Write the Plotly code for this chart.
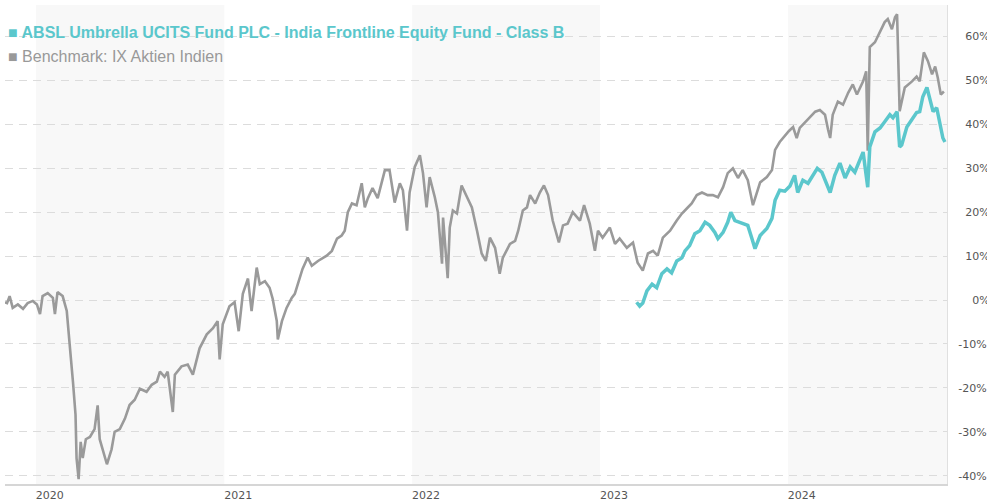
import plotly.graph_objects as go

# ---- data ----
bench_dates = [
 "2019-11-02","2019-11-06","2019-11-11","2019-11-17","2019-11-27","2019-12-07","2019-12-16","2019-12-26",
 "2020-01-03","2020-01-09","2020-01-14","2020-01-24","2020-02-03","2020-02-07","2020-02-12","2020-02-22",
 "2020-03-01","2020-03-05","2020-03-09","2020-03-13","2020-03-18","2020-03-20","2020-03-24","2020-03-28",
 "2020-04-01","2020-04-07","2020-04-15","2020-04-24","2020-04-30","2020-05-04","2020-05-10","2020-05-18",
 "2020-05-27","2020-06-02","2020-06-12","2020-06-22","2020-07-01","2020-07-11","2020-07-21","2020-08-03",
 "2020-08-13","2020-08-23","2020-08-29","2020-09-07","2020-09-13","2020-09-23","2020-09-27","2020-10-10",
 "2020-10-22","2020-11-01","2020-11-14","2020-11-28","2020-12-10","2020-12-19","2020-12-23","2020-12-29",
 "2021-01-11","2021-01-21","2021-01-29","2021-02-06","2021-02-16","2021-02-23","2021-03-05","2021-03-11",
 "2021-03-21","2021-03-30","2021-04-05","2021-04-13","2021-04-15","2021-04-23","2021-05-02","2021-05-12",
 "2021-05-18","2021-05-24","2021-06-02","2021-06-12","2021-06-20","2021-07-02","2021-07-19","2021-07-29",
 "2021-08-08","2021-08-17","2021-08-23","2021-08-29","2021-09-06","2021-09-15","2021-09-25","2021-10-01",
 "2021-10-07","2021-10-16","2021-10-26","2021-11-09","2021-11-18","2021-11-28","2021-12-08","2021-12-14",
 "2021-12-22","2021-12-27","2022-01-06","2022-01-16","2022-01-22","2022-01-29","2022-02-04","2022-02-14",
 "2022-02-20","2022-02-28","2022-03-02","2022-03-11","2022-03-15","2022-03-21","2022-03-29","2022-04-07",
 "2022-04-17","2022-04-27","2022-05-07","2022-05-16","2022-05-24","2022-06-01","2022-06-11","2022-06-20",
 "2022-06-26","2022-07-10","2022-07-20","2022-07-26","2022-08-04","2022-08-12","2022-08-18","2022-08-28",
 "2022-09-06","2022-09-14","2022-09-22","2022-10-01","2022-10-13","2022-10-21","2022-10-30","2022-11-09",
 "2022-11-23","2022-12-01","2022-12-12","2022-12-22","2022-12-28","2023-01-06","2023-01-20","2023-01-30",
 "2023-02-08","2023-02-22","2023-03-06","2023-03-15","2023-03-25","2023-04-04","2023-04-14","2023-04-23",
 "2023-05-03","2023-05-17","2023-05-30","2023-06-09","2023-06-19","2023-06-28","2023-07-08","2023-07-18",
 "2023-07-29","2023-08-08","2023-08-18","2023-08-28","2023-09-06","2023-09-16","2023-09-26","2023-10-05",
 "2023-10-15","2023-10-25","2023-11-08","2023-11-21","2023-12-01","2023-12-07","2023-12-16","2023-12-22",
 "2024-01-03","2024-01-11","2024-01-18","2024-01-24","2024-02-03","2024-02-13","2024-02-23","2024-03-03",
 "2024-03-13","2024-03-19","2024-03-23","2024-03-28","2024-04-07","2024-04-17","2024-04-27","2024-05-06",
 "2024-05-14","2024-05-26","2024-06-01","2024-06-04","2024-06-08","2024-06-18","2024-06-28","2024-07-07",
 "2024-07-13","2024-07-21","2024-07-27","2024-07-31","2024-08-05","2024-08-09","2024-08-15","2024-08-29",
 "2024-09-07","2024-09-13","2024-09-21","2024-09-29","2024-10-07","2024-10-13","2024-10-18","2024-10-24",
 "2024-10-30",
]
bench_values = [
 -0.5,-0.7,0.9,-1.8,-1.0,-2.0,-0.7,-0.2,
 -1.0,-3.2,0.9,1.6,0.5,-3.2,1.8,0.9,
 -2.5,-7.1,-13.3,-18.6,-26.1,-36.0,-40.8,-32.3,
 -36.0,-31.7,-31.2,-29.4,-24.0,-31.7,-34.0,-37.4,
 -34.0,-30.0,-29.4,-27.0,-23.9,-22.7,-20.2,-20.9,
 -19.3,-18.6,-16.3,-17.5,-16.3,-25.5,-17.0,-15.1,
 -14.7,-17.0,-11.0,-7.8,-6.4,-4.8,-13.5,-5.5,
 -1.4,-0.5,-7.1,1.4,4.9,-2.5,7.4,3.6,
 4.3,2.8,0.3,-4.8,-9.0,-4.8,-1.8,0.5,
 1.4,3.6,7.1,9.7,7.8,8.9,10.1,11.2,
 14.0,14.7,15.8,20.0,22.0,21.6,26.6,21.1,
 23.2,25.5,23.2,29.6,29.6,22.2,26.6,25.0,
 15.8,24.5,30.3,33.0,28.9,21.1,28.0,23.4,
 20.0,8.3,18.8,5.0,16.5,20.4,19.7,26.1,
 23.4,21.1,15.8,10.6,8.9,14.2,11.9,6.0,
 9.6,12.8,13.5,15.8,20.4,21.1,23.9,22.0,
 24.5,26.1,23.9,18.1,13.1,17.0,17.4,20.0,
 18.1,21.6,17.4,11.2,15.8,14.2,16.5,12.8,
 14.0,11.9,13.1,8.5,6.7,10.6,11.2,10.1,
 14.2,15.8,18.1,19.7,20.9,22.0,23.9,24.5,
 23.9,23.9,23.4,25.7,28.9,30.0,27.8,29.6,
 27.3,21.6,26.8,28.0,29.6,34.2,36.0,36.9,
 38.5,39.4,36.9,39.2,40.4,41.5,42.9,43.3,
 42.2,38.8,36.9,42.2,45.2,44.5,47.2,49.1,
 46.8,49.8,52.1,34.0,57.6,58.7,61.2,63.3,
 64.0,61.7,64.4,65.1,43.0,45.2,48.4,49.8,
 50.9,49.8,56.4,54.4,51.4,53.2,50.7,46.8,
 47.5,
]

fund_dates = [
 "2023-03-13","2023-03-19","2023-03-25","2023-04-02","2023-04-12","2023-04-21","2023-05-01","2023-05-11",
 "2023-05-20","2023-05-30","2023-06-09","2023-06-15","2023-06-24","2023-07-04","2023-07-14","2023-07-24",
 "2023-08-02","2023-08-12","2023-08-18","2023-08-28","2023-09-06","2023-09-12","2023-09-20","2023-09-30",
 "2023-10-09","2023-10-15","2023-10-23","2023-10-29","2023-11-08","2023-11-21","2023-12-01","2023-12-07",
 "2023-12-16","2023-12-26","2024-01-05","2024-01-14","2024-01-20","2024-01-30","2024-02-09","2024-02-19",
 "2024-02-27","2024-03-07","2024-03-17","2024-03-23","2024-04-01","2024-04-11","2024-04-21","2024-05-01",
 "2024-05-10","2024-05-20","2024-05-26","2024-06-04","2024-06-08","2024-06-18","2024-06-28","2024-07-07",
 "2024-07-17","2024-07-23","2024-07-31","2024-08-05","2024-08-09","2024-08-19","2024-08-29","2024-09-07",
 "2024-09-13","2024-09-19","2024-09-27","2024-10-03","2024-10-09","2024-10-16","2024-10-22","2024-10-28",
 "2024-11-01",
]
fund_values = [
 -0.5,-1.4,-0.7,2.1,3.6,2.8,6.0,7.1,
 6.2,8.9,9.6,11.2,12.4,15.1,15.8,17.7,
 17.0,15.4,14.0,15.4,17.7,20.0,18.1,17.7,
 17.4,17.0,14.0,11.7,14.7,16.3,18.6,22.7,
 25.0,24.8,26.0,28.4,24.5,27.3,26.6,28.4,
 30.0,29.1,26.1,24.5,28.4,31.2,27.8,30.3,
 29.1,32.3,33.7,25.7,34.9,38.3,39.2,40.6,
 42.2,41.5,42.9,34.9,35.3,39.4,41.1,42.7,
 42.9,46.3,48.4,45.6,42.9,43.8,39.9,36.9,
 36.0,
]

fund_name = "ABSL Umbrella UCITS Fund PLC - India Frontline Equity Fund - Class B"
bench_name = "Benchmark: IX Aktien Indien"

year_labels = ["2020", "2021", "2022", "2023", "2024"]
year_label_dates = ["2020-01-28", "2021-01-28", "2022-01-28", "2023-01-28", "2024-01-28"]
shade_periods = [("2020-01-01", "2021-01-01"), ("2022-01-01", "2023-01-01"), ("2024-01-01", "2024-11-05")]
y_ticks = [60, 50, 40, 30, 20, 10, 0, -10, -20, -30, -40]

TEAL = "#5bc7cc"
GRAY = "#9a9a9a"
FS = "\u2007"

def ylab(v):
    s = f"{v}%"
    pad = 4 - len(s)
    return FS * pad + s

fig = go.Figure()
fig.add_trace(go.Scatter(x=bench_dates, y=bench_values, mode="lines", name=bench_name,
                         line=dict(color=GRAY, width=2.6), hoverinfo="skip"))
fig.add_trace(go.Scatter(x=fund_dates, y=fund_values, mode="lines", name=fund_name,
                         line=dict(color=TEAL, width=3.5), hoverinfo="skip"))

for a, b in shade_periods:
    fig.add_shape(type="rect", xref="x", yref="paper", x0=a, x1=b, y0=0, y1=1,
                  fillcolor="#f8f8f8", line_width=0, layer="below")

fig.update_layout(
    width=987, height=503,
    margin=dict(l=5, r=40, t=5, b=19, autoexpand=False),
    paper_bgcolor="white", plot_bgcolor="white",
    showlegend=False,
    font=dict(family="DejaVu Sans", size=11, color="#555555"),
    xaxis=dict(type="date", range=["2019-11-02", "2024-11-05"], automargin=False,
               tickmode="array", tickvals=year_label_dates, ticktext=year_labels,
               showgrid=False, zeroline=False, ticks="",
               showline=True, linecolor="#d6d6d6", linewidth=2,
               tickfont=dict(family="DejaVu Sans", size=11, color="#555555")),
    yaxis=dict(side="right", range=[-41.9, 67.2], automargin=False,
               tickmode="array", tickvals=y_ticks, ticktext=[ylab(v) for v in y_ticks],
               showgrid=True, gridcolor="#dcdcdc", griddash="8px,6px", gridwidth=1,
               zeroline=False, ticks="", ticklabelstandoff=8,
               showline=True, linecolor="#e0e0e0", linewidth=1,
               tickfont=dict(family="DejaVu Sans", size=11, color="#555555")),
)

fig.add_annotation(xref="paper", yref="paper", x=0, y=1 - (33 - 5) / 479, xshift=1,
                   xanchor="left", yanchor="middle", showarrow=False,
                   text="<b>■ " + fund_name + "</b>",
                   font=dict(family="Liberation Sans", size=16, color=TEAL))
fig.add_annotation(xref="paper", yref="paper", x=0, y=1 - (56 - 5) / 479, xshift=1,
                   xanchor="left", yanchor="middle", showarrow=False,
                   text="■ " + bench_name,
                   font=dict(family="Liberation Sans", size=16, color="#999999"))

fig.write_html("out.html", config={"displayModeBar": False},
               post_script="document.body.style.margin='0';")
